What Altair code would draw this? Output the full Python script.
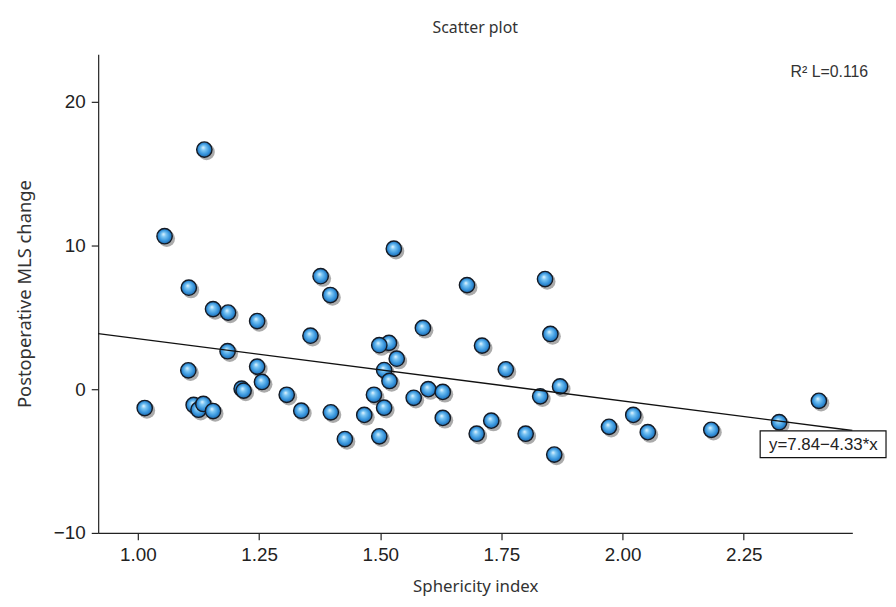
import altair as alt
import pandas as pd

# ---- data ----
sphericity = [1.137, 1.055, 1.528, 1.377, 1.840, 1.679, 1.105, 1.397, 1.155, 1.186,
              1.246, 1.588, 1.851, 1.356, 1.518, 1.498, 1.710, 1.185, 1.534, 1.759,
              1.246, 1.508, 1.104, 1.519, 1.256, 1.871, 1.599, 1.214, 1.218, 1.629,
              1.307, 1.487, 1.830, 1.569, 2.405, 1.115, 1.125, 1.135, 1.155, 1.508,
              1.014, 1.337, 1.398, 1.467, 2.022, 1.629, 1.729, 2.323, 1.972, 2.183,
              2.052, 1.699, 1.800, 1.498, 1.427, 1.859]
mls_change = [16.67, 10.64, 9.77, 7.86, 7.66, 7.24, 7.06, 6.55, 5.57, 5.33,
              4.74, 4.26, 3.84, 3.72, 3.22, 3.06, 3.03, 2.64, 2.12, 1.38,
              1.57, 1.33, 1.31, 0.57, 0.50, 0.19, 0.00, 0.03, -0.10, -0.19,
              -0.39, -0.39, -0.50, -0.60, -0.81, -1.10, -1.43, -1.03, -1.52, -1.29,
              -1.31, -1.50, -1.61, -1.79, -1.79, -2.00, -2.19, -2.30, -2.62, -2.83,
              -2.99, -3.10, -3.10, -3.28, -3.47, -4.55]

x_domain = [0.918, 2.474]
y_domain = [-10, 23.3]
x_ticks = [1.00, 1.25, 1.50, 1.75, 2.00, 2.25]
y_ticks = [-10, 0, 10, 20]

intercept = 7.84
slope = -4.33
eq_label = "y=7.84\u22124.33*x"
r2_label = "R\u00b2 L=0.116"

df = pd.DataFrame({"x": sphericity, "y": mls_change})
line_df = pd.DataFrame({"x": x_domain})

x_scale = alt.Scale(domain=x_domain, nice=False, zero=False)
y_scale = alt.Scale(domain=y_domain, nice=False, zero=False)

axis_common = dict(
    grid=False, domainColor="#222", domainWidth=1.2, tickColor="#222", tickWidth=1.2,
    tickSize=7, labelFont="Liberation Sans", labelFontSize=19, labelColor="#222",
    titleFont="Noto Sans", titleFontWeight="normal", titleColor="#333",
)

x_enc = alt.X("x:Q", scale=x_scale,
              axis=alt.Axis(values=x_ticks, format=".2f", title="Sphericity index",
                            labelPadding=6, titlePadding=14, titleFontSize=17, **axis_common))
y_enc = alt.Y("y:Q", scale=y_scale,
              axis=alt.Axis(values=y_ticks, format="d", title="Postoperative MLS change",
                            labelPadding=6, titlePadding=19, titleFontSize=18.5, **axis_common))

sphere = {
    "gradient": "radial",
    "x1": 0.42, "y1": 0.36, "r1": 0.0,
    "x2": 0.5, "y2": 0.5, "r2": 0.5,
    "stops": [
        {"offset": 0.0, "color": "#eaf7ff"},
        {"offset": 0.3, "color": "#7cc6f3"},
        {"offset": 0.72, "color": "#3593dc"},
        {"offset": 1.0, "color": "#1f68a8"},
    ],
}

shadow = alt.Chart(df).mark_point(
    shape="circle", filled=True, size=280, fill="#666", opacity=0.55,
    strokeWidth=0, xOffset=2.2, yOffset=2.4
).encode(x=x_enc, y=y_enc)

points = alt.Chart(df).mark_point(
    shape="circle", filled=True, size=240, fill=sphere, opacity=1,
    stroke="#141a24", strokeWidth=1.4
).encode(x=x_enc, y=y_enc)

fit = alt.Chart(line_df).transform_calculate(
    y=f"{intercept} + ({slope}) * datum.x"
).mark_line(color="#111", strokeWidth=1.4).encode(x=x_enc, y=y_enc)

ann = pd.DataFrame({"t": [eq_label]})
box = alt.Chart(ann).mark_rect(fill="white", stroke="#111", strokeWidth=1.2).encode(
    x=alt.value(668), x2=alt.value(795), y=alt.value(380), y2=alt.value(407)
)
eq_text = alt.Chart(ann).mark_text(
    align="left", baseline="middle", font="Liberation Sans", fontSize=17, color="#222"
).encode(x=alt.value(677), y=alt.value(394), text="t:N")

r2 = alt.Chart(pd.DataFrame({"t": [r2_label]})).mark_text(
    align="right", baseline="middle", font="Liberation Sans", fontSize=16, color="#333"
).encode(x=alt.value(777), y=alt.value(18), text="t:N")

chart = alt.layer(shadow, points, fit, box, eq_text, r2).properties(
    width=761, height=483,
    title=alt.TitleParams("Scatter plot", anchor="middle", font="Noto Sans", fontSize=16,
                          fontWeight="normal", color="#333", offset=18),
    padding={"left": 91, "top": 44, "right": 36, "bottom": 64},
    autosize=alt.AutoSizeParams(type="none"),
    background="white",
).configure_view(stroke=None)

chart.save("out.html", embed_options={"renderer": "svg", "actions": False})
